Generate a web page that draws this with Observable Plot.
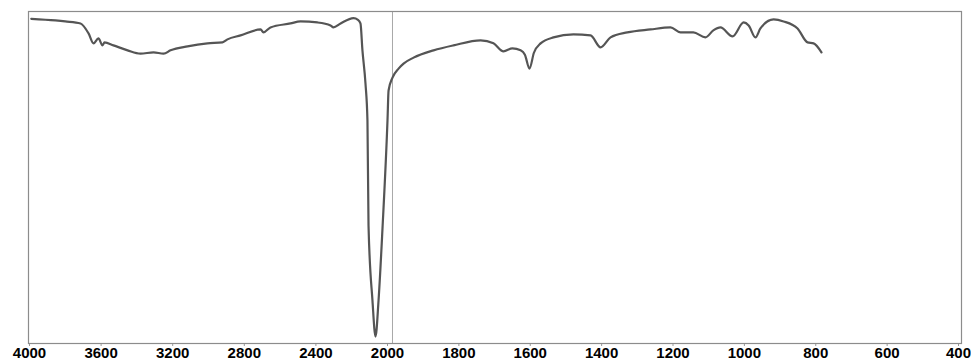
<!DOCTYPE html>
<html>
<head>
<meta charset="utf-8">
<script src="https://cdn.jsdelivr.net/npm/d3@7"></script>
<script src="https://cdn.jsdelivr.net/npm/@observablehq/plot@0.6"></script>
<style>
  html, body { margin: 0; padding: 0; background: #ffffff; }
  #chart svg [aria-label="x-axis tick"] path { stroke: #999; }
</style>
</head>
<body>
<div id="chart"></div>
<script>
// Wavenumber (cm^-1) and transmittance (%)
const wavenumber = [
  3990, 3855, 3800, 3715, 3670, 3642, 3615, 3592, 3581, 3531, 3452, 3380, 3307, 3251, 3212,
  3117, 3006, 2922, 2894, 2821, 2709, 2693, 2654, 2542, 2486, 2391, 2318, 2302, 2262, 2190,
  2165, 2151, 2140, 2123, 2112, 2106, 2084, 2067, 2050, 2028, 2000, 1997, 1986, 1969, 1955,
  1927, 1871, 1815, 1739, 1703, 1675, 1650, 1627, 1615, 1602, 1590, 1571, 1535, 1479, 1431,
  1403, 1375, 1328, 1263, 1207, 1179, 1143, 1109, 1087, 1067, 1033, 1002, 988, 969, 955,
  918, 890, 851, 823, 806, 784
];
const transmittance = [
  97.8, 97.3, 97.0, 96.4, 93.4, 90.4, 91.9, 89.8, 90.7, 89.8, 88.3, 87.3, 87.7, 87.3, 88.3,
  89.5, 90.4, 90.7, 91.6, 92.8, 94.6, 93.7, 95.2, 96.4, 97.0, 96.7, 95.8, 95.2, 96.4, 98.0,
  97.5, 96.4, 88.3, 78.3, 67.2, 35.5, 13.0, 2.1, 13.0, 34.6, 67.2, 76.2, 80.1, 82.8, 84.3,
  86.1, 88.3, 89.8, 91.3, 90.4, 88.0, 88.9, 88.3, 87.0, 82.8, 87.5, 90.4, 92.2, 93.1, 92.8,
  89.2, 92.2, 93.7, 94.6, 95.2, 93.7, 93.7, 92.2, 94.3, 95.2, 92.5, 96.7, 95.8, 92.2, 94.9,
  97.6, 97.0, 94.9, 90.7, 90.4, 87.7
];
const xTicks = [4000, 3600, 3200, 2800, 2400, 2000, 1800, 1600, 1400, 1200, 1000, 800, 600, 400];
const xBreaks = [4000, 2000, 400];
const markerLine = [1986];

const data = wavenumber.map((w, i) => ({w, t: transmittance[i]}));

const chart = Plot.plot({
  width: 971,
  height: 363,
  marginTop: 11,
  marginBottom: 20,
  marginLeft: 28,
  marginRight: 10,
  style: {
    fontFamily: "'Liberation Sans', Arial, sans-serif",
    fontSize: "15px",
    fontWeight: "bold",
    background: "#ffffff",
    color: "#000"
  },
  x: {
    type: "linear",
    domain: xBreaks,
    range: [29, 387, 958],
    ticks: xTicks,
    tickFormat: d => String(d),
    tickSize: 3,
    tickPadding: 1,
    label: null
  },
  y: {
    domain: [0, 100],
    axis: null
  },
  marks: [
    Plot.ruleX(markerLine, {stroke: "#a8a8a8", strokeWidth: 1}),
    Plot.frame({stroke: "#8c8c8c", strokeWidth: 1.2}),
    Plot.line(data, {x: "w", y: "t", stroke: "#555555", strokeWidth: 2.2, strokeLinejoin: "round", curve: "monotone-x"})
  ]
});
document.getElementById("chart").appendChild(chart);
</script>
</body>
</html>
